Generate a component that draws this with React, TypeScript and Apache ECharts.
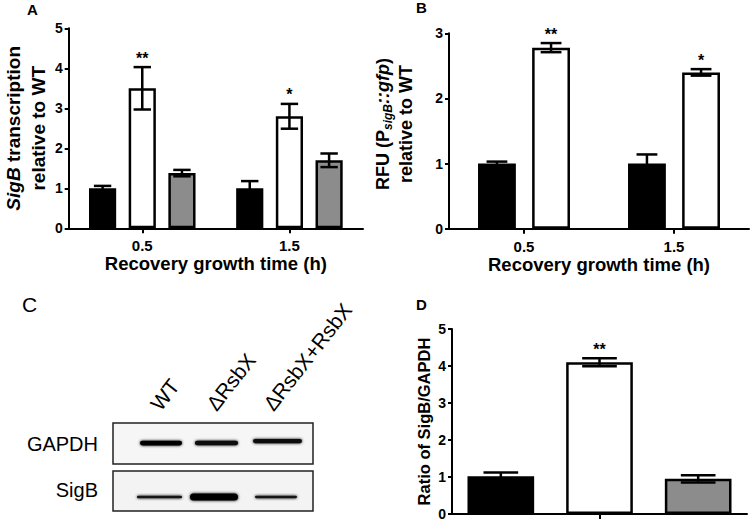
import React, { useEffect, useRef } from "react";
import * as echarts from "echarts";

// ---------- data ----------
const groups = ["WT", "ΔRsbX", "ΔRsbX+RsbX"];
const barColors = ["#000000", "#ffffff", "#8c8c8c"];
const timeCategories = ["0.5", "1.5"];

// Panel A: SigB transcription relative to WT
const aMeans = [
  [1.0, 1.0],
  [3.5, 2.8],
  [1.38, 1.7],
];
const aErrs = [
  [0.06, 0.18],
  [0.53, 0.31],
  [0.08, 0.17],
];
const aStars = [
  ["", ""],
  ["**", "*"],
  ["", ""],
];

// Panel B: RFU (PsigB::gfp) relative to WT
const bMeans = [
  [1.0, 1.0],
  [2.78, 2.4],
];
const bErrs = [
  [0.03, 0.14],
  [0.07, 0.05],
];
const bStars = [
  ["", ""],
  ["**", "*"],
];

// Panel D: Ratio of SigB/GAPDH
const dCategories = [""];
const dMeans = [[1.02], [4.1], [0.95]];
const dErrs = [[0.1], [0.11], [0.1]];
const dStars = [[""], ["**"], [""]];

// Panel C: western blot band intensities (0..1)
const blotRows = ["GAPDH", "SigB"];
const gapdhIntensity = [0.95, 0.9, 0.85];
const sigBIntensity = [0.75, 1.0, 0.65];

const FONT = "'Liberation Sans', Arial, sans-serif";

function makeErrRender(
  idx: number,
  n: number,
  catGap: number,
  barGap: number,
  capFrac: number,
  stars: string[]
) {
  return (params: any, api: any) => {
    const cat = api.value(0);
    const mean = api.value(1);
    const err = api.value(2);
    const band = api.size([1, 0])[0];
    const avail = band * (1 - catGap);
    const w = avail / (n + (n - 1) * barGap);
    const c = api.coord([cat, mean]);
    const x = c[0] - avail / 2 + w / 2 + idx * w * (1 + barGap);
    const top = api.coord([cat, mean + err])[1];
    const bot = api.coord([cat, mean - err])[1];
    const half = (w * capFrac) / 2;
    const ls = { stroke: "#000", lineWidth: 2.5 };
    const children: any[] = [
      { type: "line", shape: { x1: x, y1: top, x2: x, y2: bot }, style: ls },
      { type: "line", shape: { x1: x - half, y1: top, x2: x + half, y2: top }, style: ls },
      { type: "line", shape: { x1: x - half, y1: bot, x2: x + half, y2: bot }, style: ls },
    ];
    const star = stars[params.dataIndex];
    if (star) {
      children.push({
        type: "text",
        x,
        y: top - 1,
        style: {
          text: star,
          fill: "#000",
          font: `bold 16px ${FONT}`,
          align: "center",
          verticalAlign: "bottom",
        },
      });
    }
    return { type: "group", children };
  };
}

function panelSeries(
  gi: number,
  means: number[][],
  errs: number[][],
  stars: string[][],
  catGap: number,
  barGap: number,
  capFrac: number
) {
  const n = means.length;
  const out: any[] = [];
  means.forEach((m, i) => {
    out.push({
      type: "bar",
      name: groups[i],
      xAxisIndex: gi,
      yAxisIndex: gi,
      data: m,
      barGap: `${barGap * 100}%`,
      barCategoryGap: `${catGap * 100}%`,
      itemStyle: { color: barColors[i], borderColor: "#000", borderWidth: 2.5 },
      z: 2,
    });
  });
  means.forEach((m, i) => {
    out.push({
      type: "custom",
      name: groups[i] + " SEM",
      xAxisIndex: gi,
      yAxisIndex: gi,
      data: m.map((v, j) => [j, v, errs[i][j]]),
      encode: { x: 0, y: 1 },
      renderItem: makeErrRender(i, n, catGap, barGap, capFrac, stars[i]),
      clip: false,
      z: 3,
    });
  });
  return out;
}

const axisLineStyle = { color: "#000", width: 2 };

function xAxis(gi: number, data: string[], name: string, showLabel: boolean) {
  return {
    type: "category",
    gridIndex: gi,
    data,
    axisLine: { show: true, lineStyle: axisLineStyle },
    axisTick: { show: true, alignWithLabel: true, length: 5, lineStyle: { color: "#000", width: 2 } },
    axisLabel: {
      show: showLabel,
      color: "#000",
      fontWeight: "bold",
      fontSize: 15,
      fontFamily: FONT,
      margin: 10,
    },
    name,
    nameLocation: "middle",
    nameGap: 25,
    nameTextStyle: { color: "#000", fontWeight: "bold", fontSize: 18.5, fontFamily: FONT },
  };
}

function yAxis(
  gi: number,
  max: number,
  name: string,
  nameGap: number,
  fontSize: number,
  lineHeight: number,
  padding: number[]
) {
  return {
    type: "value",
    gridIndex: gi,
    min: 0,
    max,
    interval: 1,
    axisLine: { show: true, lineStyle: axisLineStyle },
    axisTick: { show: true, length: 4, lineStyle: { color: "#000", width: 2 } },
    axisLabel: { color: "#000", fontWeight: "bold", fontSize: 14, fontFamily: FONT, margin: 6 },
    splitLine: { show: false },
    name,
    nameLocation: "middle",
    nameRotate: 90,
    nameGap,
    nameTextStyle: {
      color: "#000",
      fontWeight: "bold",
      fontSize,
      fontFamily: FONT,
      lineHeight,
      align: "center",
      padding,
      rich: {
        it: { fontStyle: "italic", fontWeight: "bold", fontSize, fontFamily: FONT, color: "#000", lineHeight },
        sub: {
          fontStyle: "italic",
          fontWeight: "bold",
          fontSize: 12,
          fontFamily: FONT,
          color: "#000",
          verticalAlign: "bottom",
          lineHeight,
        },
      },
    },
  };
}

function blotGraphics() {
  const els: any[] = [];
  const boxX = 113;
  const boxW = 200;
  const rows = [
    { label: blotRows[0], y: 423, h: 41, bg: "#f6f6f6", labelY: 444, intens: gapdhIntensity },
    { label: blotRows[1], y: 471, h: 40, bg: "#f3f3f3", labelY: 490, intens: sigBIntensity },
  ];
  const laneX = [[140, 182], [195, 238], [253, 302]];
  const sigLaneX = [[137, 182], [190, 238], [255, 297]];
  rows.forEach((r, ri) => {
    els.push({
      type: "rect",
      shape: { x: boxX, y: r.y, width: boxW, height: r.h },
      style: { fill: r.bg, stroke: "#222", lineWidth: 1.5 },
    });
    els.push({
      type: "text",
      x: 98,
      y: r.labelY,
      style: { text: r.label, font: `20px ${FONT}`, fill: "#000", align: "right", verticalAlign: "middle" },
    });
    r.intens.forEach((v, li) => {
      const lx = ri === 0 ? laneX[li] : sigLaneX[li];
      let h: number;
      let cy: number;
      if (ri === 0) {
        h = 5 * v;
        cy = li === 2 ? 441 : 443;
      } else {
        h = li === 1 ? 7 : 3.5 * v;
        cy = 497;
      }
      const g = Math.round(70 * (1 - v));
      const col = `rgb(${g},${g},${g})`;
      els.push({
        type: "rect",
        shape: { x: lx[0], y: cy - h / 2, width: lx[1] - lx[0], height: h, r: h / 2 },
        style: { fill: col, shadowBlur: 3, shadowColor: col },
      });
    });
  });
  // lane labels
  const laneAnchors = [
    [163, 414],
    [219, 414],
    [276, 414],
  ];
  groups.forEach((gname, i) => {
    els.push({
      type: "text",
      x: laneAnchors[i][0],
      y: laneAnchors[i][1],
      rotation: (52 * Math.PI) / 180,
      style: { text: gname, font: `21px ${FONT}`, fill: "#000", align: "left", verticalAlign: "bottom" },
    });
  });
  return els;
}

function panelLetters() {
  const mk = (t: string, x: number, y: number, font: string) => ({
    type: "text",
    x,
    y,
    style: { text: t, font, fill: "#000", align: "left", verticalAlign: "top" },
  });
  return [
    mk("A", 27, 2, `bold 15px ${FONT}`),
    mk("B", 416, 0, `bold 15px ${FONT}`),
    mk("C", 22, 294, `21px ${FONT}`),
    mk("D", 416, 297, `bold 15px ${FONT}`),
  ];
}

export default function App() {
  const ref = useRef<HTMLDivElement>(null);
  useEffect(() => {
    if (!ref.current) return;
    const chart = echarts.init(ref.current, undefined, { renderer: "svg" });
    const option: any = {
      animation: false,
      backgroundColor: "#ffffff",
      grid: [
        { left: 59, top: 28.3, width: 304, height: 200 },
        { left: 449, top: 33.3, width: 300, height: 195.4 },
        { left: 452, top: 329, width: 295, height: 185 },
      ],
      xAxis: [
        xAxis(0, timeCategories, "Recovery growth time (h)", true),
        xAxis(1, timeCategories, "Recovery growth time (h)", true),
        xAxis(2, dCategories, "", false),
      ],
      yAxis: [
        yAxis(0, 5, "{it|SigB} transcription\nrelative to WT", 15, 19, 25, [0, 0, 0, 0]),
        yAxis(1, 3, "RFU (P{sub|sigB}{it|::gfp})\nrelative to WT", 32, 18, 23, [0, 0, 0, 14]),
        yAxis(2, 5, "Ratio of SigB/GAPDH", 19, 16.5, 18, [0, 0, 0, 0]),
      ],
      series: [
        ...panelSeries(0, aMeans, aErrs, aStars, 0.276, 0.46, 0.64),
        ...panelSeries(1, bMeans, bErrs, bStars, 0.387, 0.43, 0.55),
        ...panelSeries(2, dMeans, dErrs, dStars, 0.105, 0.48, 0.52),
      ],
      graphic: [...blotGraphics(), ...panelLetters()],
    };
    chart.setOption(option);
    return () => chart.dispose();
  }, []);
  return (
    <div
      ref={ref}
      style={{ position: "absolute", left: 0, top: 0, width: 750, height: 523, background: "#fff" }}
    />
  );
}
